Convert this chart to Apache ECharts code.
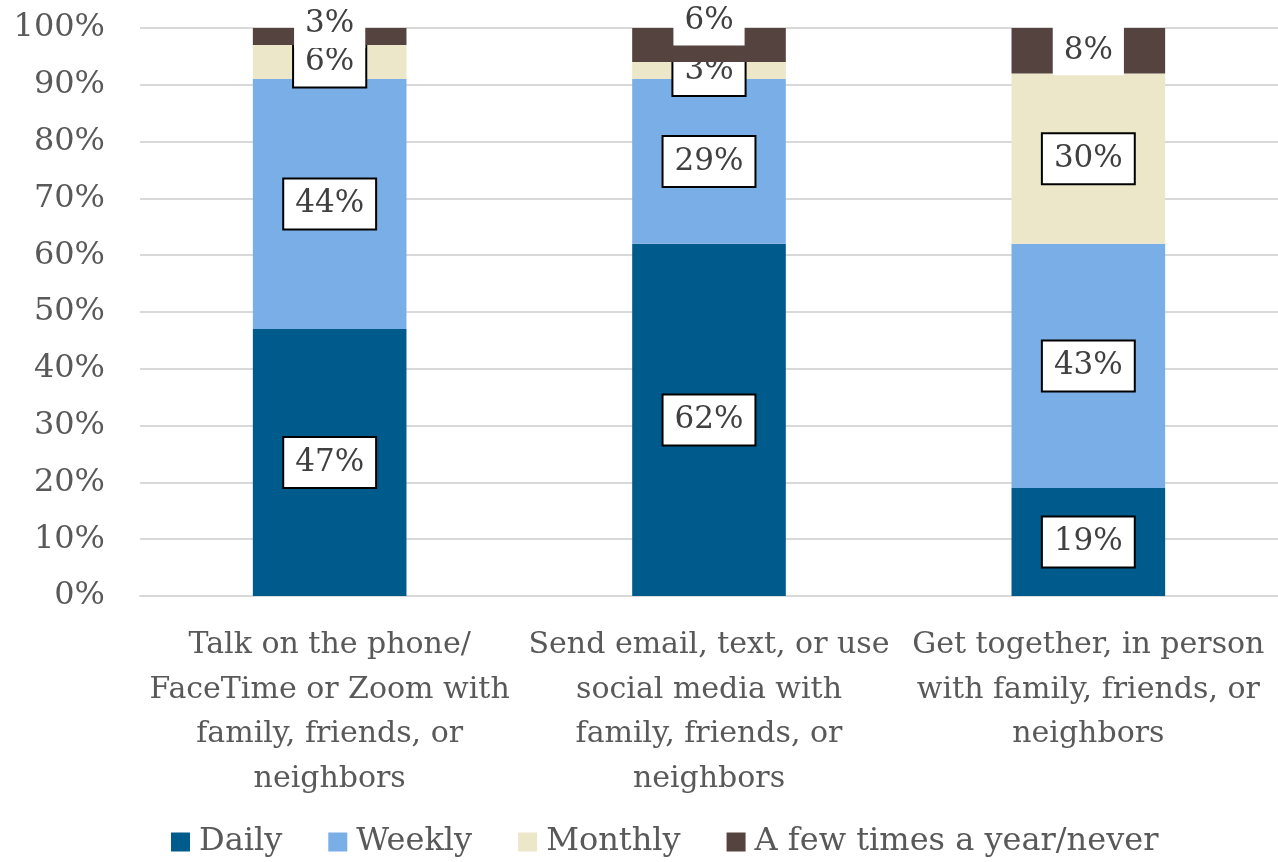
<!DOCTYPE html>
<html>
<head>
<meta charset="utf-8">
<script src="https://cdn.jsdelivr.net/npm/echarts@6/dist/echarts.min.js"></script>
<style>
  html, body { margin: 0; padding: 0; background: #fff; }
  #chart { width: 1278px; height: 862px; }
</style>
</head>
<body>
<div id="chart"></div>
<script>
// Frequency of staying in touch, share of respondents (%)
const categories = [
  'Talk on the phone/\nFaceTime or Zoom with\nfamily, friends, or\nneighbors',
  'Send email, text, or use\nsocial media with\nfamily, friends, or\nneighbors',
  'Get together, in person\nwith family, friends, or\nneighbors'
];
const seriesNames = ['Daily', 'Weekly', 'Monthly', 'A few times a year/never'];
const daily = [47, 62, 19];
const weekly = [44, 29, 43];
const monthly = [6, 3, 30];
const fewTimes = [3, 6, 8];
const yTicks = [0, 10, 20, 30, 40, 50, 60, 70, 80, 90, 100];

const FONT = 'DejaVu Serif';
const colors = ['#005b8d', '#7aaee6', '#ece7c8', '#54433f'];

// Vertical nudges for labels on thin top segments so they don't collide
const topLabelShift = [[0, -13], [0, -24], [0, 0]];

const boxedLabel = {
  show: true,
  position: 'inside',
  formatter: p => p.value + '%',
  fontFamily: FONT,
  fontSize: 31,
  color: '#404040',
  backgroundColor: '#ffffff',
  borderColor: '#000000',
  borderWidth: 2,
  padding: [10, 11, 8, 11]
};

function makeSeries(name, values, idx) {
  const isTop = idx === 3;
  return {
    name: name,
    type: 'bar',
    stack: 'total',
    barWidth: '40.5%',
    itemStyle: { color: colors[idx] },
    label: isTop ? Object.assign({}, boxedLabel, { borderWidth: 0 }) : boxedLabel,
    emphasis: { disabled: true },
    data: values.map((v, i) => isTop
      ? { value: v, label: { offset: topLabelShift[i] } }
      : v),
    z: isTop ? 3 : 2
  };
}

const chart = echarts.init(document.getElementById('chart'), null, { renderer: 'canvas' });
chart.setOption({
  animation: false,
  textStyle: { fontFamily: FONT },
  grid: { left: 140, right: 0, top: 28, bottom: 266, containLabel: false },
  legend: {
    bottom: -1,
    left: 166,
    itemWidth: 19,
    itemHeight: 19,
    itemGap: 46,
    icon: 'rect',
    textStyle: { fontFamily: FONT, fontSize: 32, color: '#595959', padding: [0, 0, 0, 4] },
    data: seriesNames
  },
  xAxis: {
    type: 'category',
    data: categories,
    axisLine: { show: true, lineStyle: { color: '#d9d9d9', width: 2 } },
    axisTick: { show: false },
    axisLabel: {
      interval: 0,
      margin: 27,
      fontFamily: FONT,
      fontSize: 30,
      lineHeight: 44.5,
      color: '#595959',
      align: 'center'
    }
  },
  yAxis: {
    type: 'value',
    min: yTicks[0],
    max: yTicks[yTicks.length - 1],
    interval: 10,
    axisLine: { show: false },
    axisTick: { show: false },
    splitLine: { lineStyle: { color: '#d9d9d9', width: 2 } },
    axisLabel: {
      margin: 35,
      fontFamily: FONT,
      fontSize: 32,
      color: '#595959',
      formatter: v => v + '%'
    }
  },
  series: [
    makeSeries(seriesNames[0], daily, 0),
    makeSeries(seriesNames[1], weekly, 1),
    makeSeries(seriesNames[2], monthly, 2),
    makeSeries(seriesNames[3], fewTimes, 3)
  ]
});
</script>
</body>
</html>
